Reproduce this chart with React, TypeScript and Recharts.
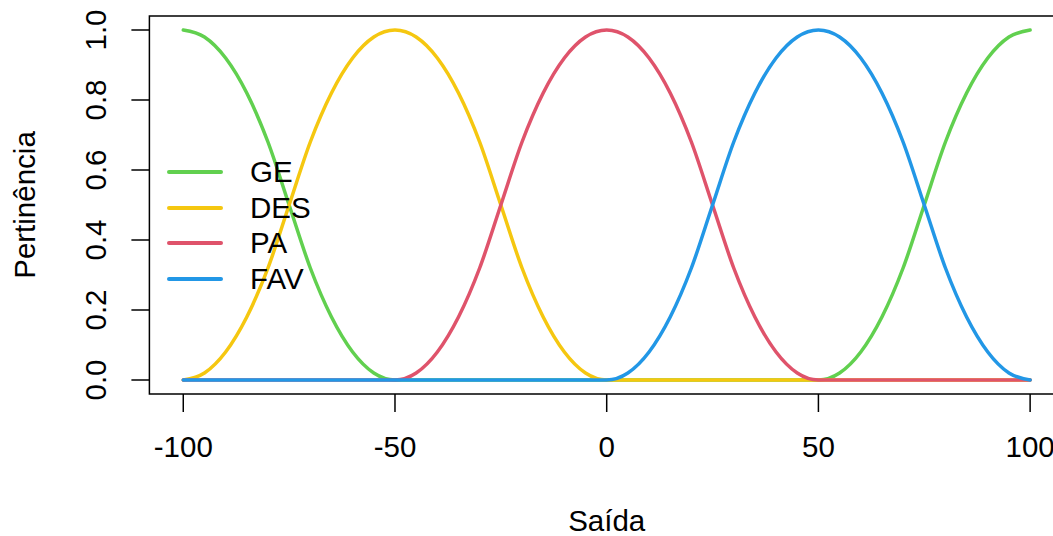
import { LineChart, Line, XAxis, YAxis, ReferenceArea } from "recharts";

const saida = [
  -100, -95, -90, -85, -80, -75, -70, -65, -60, -55, -50, -45, -40, -35, -30, -25, -20, -15, -10, -5,
  0, 5, 10, 15, 20, 25, 30, 35, 40, 45, 50, 55, 60, 65, 70, 75, 80, 85, 90, 95, 100,
];

const GE = [
  1, 0.98, 0.92, 0.82, 0.68, 0.5, 0.32, 0.18, 0.08, 0.02, 0,
  0, 0, 0, 0, 0, 0, 0, 0, 0, 0, 0, 0, 0, 0, 0, 0, 0, 0, 0,
  0, 0.02, 0.08, 0.18, 0.32, 0.5, 0.68, 0.82, 0.92, 0.98, 1,
];
const DES = [
  0, 0.02, 0.08, 0.18, 0.32, 0.5, 0.68, 0.82, 0.92, 0.98, 1,
  0.98, 0.92, 0.82, 0.68, 0.5, 0.32, 0.18, 0.08, 0.02, 0,
  0, 0, 0, 0, 0, 0, 0, 0, 0, 0, 0, 0, 0, 0, 0, 0, 0, 0, 0, 0,
];
const PA = [
  0, 0, 0, 0, 0, 0, 0, 0, 0, 0,
  0, 0.02, 0.08, 0.18, 0.32, 0.5, 0.68, 0.82, 0.92, 0.98, 1,
  0.98, 0.92, 0.82, 0.68, 0.5, 0.32, 0.18, 0.08, 0.02, 0,
  0, 0, 0, 0, 0, 0, 0, 0, 0, 0,
];
const FAV = [
  0, 0, 0, 0, 0, 0, 0, 0, 0, 0, 0, 0, 0, 0, 0, 0, 0, 0, 0, 0,
  0, 0.02, 0.08, 0.18, 0.32, 0.5, 0.68, 0.82, 0.92, 0.98, 1,
  0.98, 0.92, 0.82, 0.68, 0.5, 0.32, 0.18, 0.08, 0.02, 0,
];

const xTicks = [-100, -50, 0, 50, 100];
const yTicks = [0, 0.2, 0.4, 0.6, 0.8, 1];

const series = [
  { key: "GE", color: "#61D04F" },
  { key: "DES", color: "#F5C710" },
  { key: "PA", color: "#DF536B" },
  { key: "FAV", color: "#2297E6" },
];

const data = saida.map((x, i) => ({ x, GE: GE[i], DES: DES[i], PA: PA[i], FAV: FAV[i] }));

const FONT = "'Liberation Sans', Arial, Helvetica, sans-serif";
const FS = 29.5;

const YTick = (props: any) => {
  const { x, y, payload } = props;
  return (
    <text
      x={x}
      y={y}
      transform={`rotate(-90 ${x} ${y})`}
      textAnchor="middle"
      fontSize={FS}
      fontFamily={FONT}
      fill="#000"
    >
      {Number(payload.value).toFixed(1)}
    </text>
  );
};

export default function App() {
  return (
    <div
      style={{
        position: "absolute",
        left: 0,
        top: 0,
        width: 1053,
        height: 536,
        overflow: "hidden",
        background: "#fff",
        fontFamily: FONT,
      }}
    >
      <LineChart
        width={1080}
        height={536}
        data={data}
        margin={{ top: 16, right: 16, bottom: 0, left: 0 }}
      >
        <XAxis
          dataKey="x"
          type="number"
          domain={[-108, 108]}
          ticks={xTicks}
          axisLine={false}
          tickLine={{ stroke: "#000", strokeWidth: 1.5 }}
          tickSize={18}
          tickMargin={24.5}
          height={142}
          tick={{ fill: "#000", fontSize: FS, fontFamily: FONT }}
          label={{
            content: (p: any) => (
              <text
                x={p.viewBox.x + p.viewBox.width / 2}
                y={531}
                textAnchor="middle"
                fontSize={FS}
                fontFamily={FONT}
                fill="#000"
              >
                Saída
              </text>
            ),
          }}
        />
        <YAxis
          type="number"
          domain={[-0.04, 1.04]}
          ticks={yTicks}
          axisLine={false}
          tickLine={{ stroke: "#000", strokeWidth: 1.5 }}
          tickSize={18}
          tickMargin={25}
          width={149.4}
          tick={<YTick />}
          label={{
            content: (p: any) => {
              const cy = p.viewBox.y + p.viewBox.height / 2;
              return (
                <text
                  x={35}
                  y={cy}
                  transform={`rotate(-90 35 ${cy})`}
                  textAnchor="middle"
                  fontSize={FS}
                  fontFamily={FONT}
                  fill="#000"
                >
                  Pertinência
                </text>
              );
            },
          }}
        />
        <ReferenceArea
          x1={-108}
          x2={108}
          y1={-0.04}
          y2={1.04}
          fill="none"
          fillOpacity={0}
          stroke="#000"
          strokeWidth={1.5}
          ifOverflow="visible"
        />
        {series.map((s) => (
          <Line
            key={s.key}
            type="monotone"
            dataKey={s.key}
            stroke={s.color}
            strokeWidth={3.5}
            strokeLinecap="round"
            dot={false}
            activeDot={false}
            isAnimationActive={false}
          />
        ))}
      </LineChart>
      <div style={{ position: "absolute", left: 167, top: 154 }}>
        {series.map((s) => (
          <div
            key={s.key}
            style={{ display: "flex", alignItems: "center", height: 35.7 }}
          >
            <div style={{ width: 56, height: 4, background: s.color, borderRadius: 2 }} />
            <span style={{ marginLeft: 27, fontSize: FS, color: "#000", lineHeight: "30px" }}>
              {s.key}
            </span>
          </div>
        ))}
      </div>
    </div>
  );
}
